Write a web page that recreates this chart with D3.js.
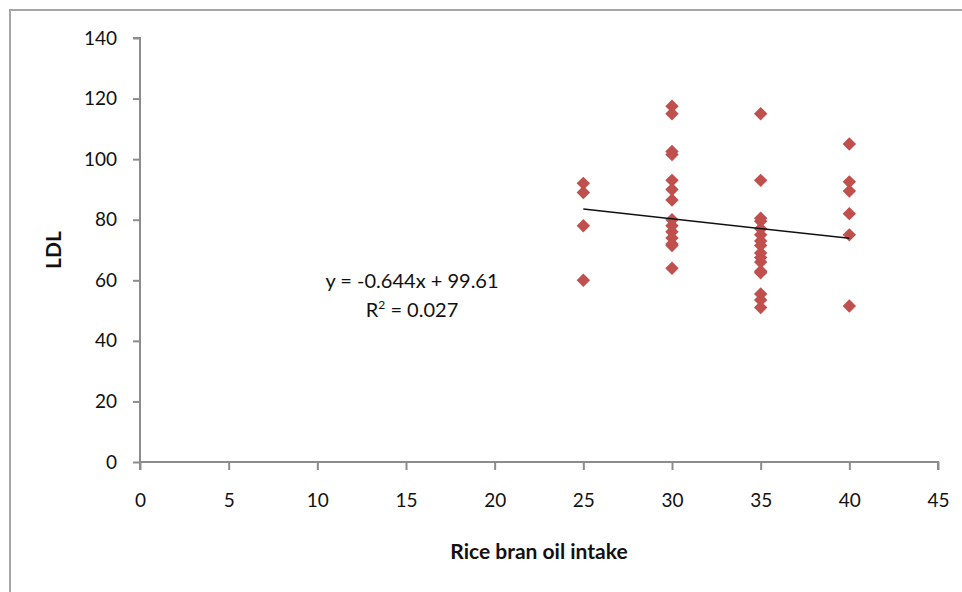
<!DOCTYPE html>
<html><head><meta charset="utf-8">
<script src="https://cdn.jsdelivr.net/npm/d3@7"></script>
<style>body{margin:0;background:#fff}svg{display:block}text{font-family:Lato,"Open Sans",sans-serif}</style>
</head><body><svg id="c" width="962" height="592"></svg>
<script>
// Data
const x25 = [92, 89, 78, 60];
const x30 = [117.5, 115, 102.5, 101.5, 93, 90, 86.5, 80, 78, 76, 74, 72, 71.5, 64];
const x35 = [115, 93, 80.5, 79.5, 77, 75, 73, 71.5, 69, 67.5, 66, 63, 62.5, 55.5, 53.5, 51];
const x40 = [105, 92.5, 89.5, 82, 75, 51.5];
const groups = [[25, x25], [30, x30], [35, x35], [40, x40]];
const xTicks = [0, 5, 10, 15, 20, 25, 30, 35, 40, 45];
const yTicks = [0, 20, 40, 60, 80, 100, 120, 140];
const slope = -0.644, intercept = 99.61;
const trendRange = [25, 40];
const eqText = "y = -0.644x + 99.61";
const r2Text = "0.027";
const xTitle = "Rice bran oil intake";
const yTitle = "LDL";

const points = [];
groups.forEach(([xv, ys]) => ys.forEach(y => points.push({x: xv, y})));

const svg = d3.select("#c");
svg.append("rect").attr("x", 10).attr("y", 10).attr("width", 1000).attr("height", 700)
  .attr("fill", "none").attr("stroke", "#a6a6a6").attr("stroke-width", 2);

const x = d3.scaleLinear().domain([0, 45]).range([140, 938]);
const y = d3.scaleLinear().domain([0, 140]).range([462, 38]);
const axisColor = "#8c8c8c";

const gx = svg.append("g").attr("transform", `translate(0,${y(0)})`)
  .call(d3.axisBottom(x).tickValues(xTicks).tickSize(8).tickPadding(24).tickFormat(d3.format("d")));
const gy = svg.append("g").attr("transform", `translate(${x(0)},0)`)
  .call(d3.axisLeft(y).tickValues(yTicks).tickSize(7).tickPadding(16).tickFormat(d3.format("d")));
[gx, gy].forEach(g => {
  g.select(".domain").attr("stroke", axisColor).attr("stroke-width", 2);
  g.selectAll(".tick line").attr("stroke", axisColor).attr("stroke-width", 2);
  g.selectAll(".tick text").attr("fill", "#111").style("font-size", "19px");
});
gy.select(".domain").attr("d", `M-7,${y(140)}H0V${y(0)}`);
gx.select(".domain").attr("d", `M${x(0)},8V0H${x(45)}V8`);

svg.append("g").selectAll("path").data(points).join("path")
  .attr("transform", d => `translate(${x(d.x)},${y(d.y)}) rotate(45)`)
  .attr("d", d3.symbol(d3.symbolSquare, 90))
  .attr("fill", "#c0504d");

svg.append("line")
  .attr("x1", x(trendRange[0])).attr("y1", y(intercept + slope * trendRange[0]))
  .attr("x2", x(trendRange[1])).attr("y2", y(intercept + slope * trendRange[1]))
  .attr("stroke", "#111").attr("stroke-width", 1.5);

svg.append("text").attr("x", 412).attr("y", 288).attr("text-anchor", "middle")
  .style("font-size", "20px").attr("fill", "#111").text(eqText);
const r2 = svg.append("text").attr("x", 412).attr("y", 317).attr("text-anchor", "middle")
  .style("font-size", "20px").attr("fill", "#111");
r2.append("tspan").text("R");
r2.append("tspan").attr("dy", -8).style("font-size", "12px").text("2");
r2.append("tspan").attr("dy", 8).text(" = " + r2Text);

svg.append("text").attr("x", 539).attr("y", 559).attr("text-anchor", "middle")
  .style("font-size", "21px").style("font-weight", "bold").attr("fill", "#111").text(xTitle);
svg.append("text").attr("transform", "translate(61,250) rotate(-90)").attr("text-anchor", "middle")
  .style("font-size", "21px").style("font-weight", "bold").attr("fill", "#111").text(yTitle);
</script></body></html>
